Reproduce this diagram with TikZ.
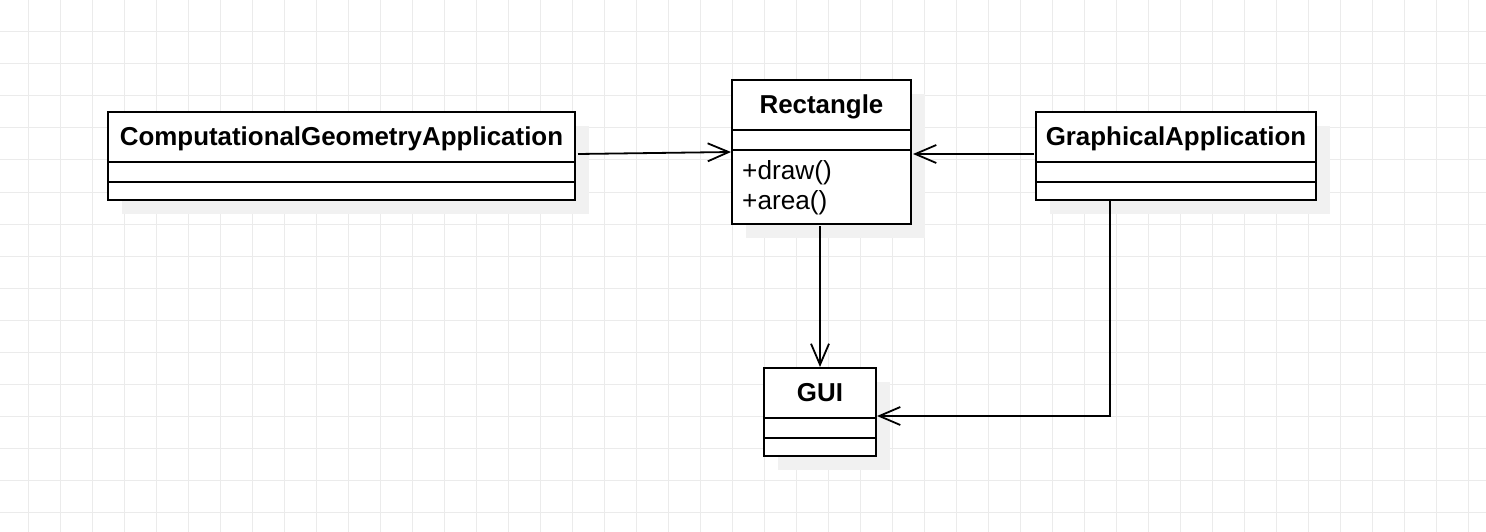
\documentclass[tikz,border=0pt]{standalone}
\usepackage{fontspec}
\setmainfont{Liberation Sans}
\usetikzlibrary{calc,arrows.meta,shadows}
\definecolor{gridc}{HTML}{EBEBEB}
\definecolor{shadowc}{HTML}{F1F1F1}
\tikzset{
  gridline/.style={draw=gridc, line width=1pt},
  classbox/.style={draw=black, fill=white, line width=2pt, inner sep=0pt, outer sep=0pt,
    anchor=north west,
    general shadow={shadow xshift=14pt, shadow yshift=-14pt, fill=shadowc, draw=none, opacity=1}},
  boxline/.style={draw=black, line width=2pt},
  headtext/.style={font=\bfseries\fontsize{25.9}{30}\selectfont, inner sep=0pt, anchor=base},
  optext/.style={font=\fontsize{26.2}{30}\selectfont, inner sep=0pt, anchor=base west},
  assoc/.style={draw=black, line width=1.8pt, -{Straight Barb[length=21pt, width=18pt]}},
}
\begin{document}
\begin{tikzpicture}[x=1pt, y=-1pt]
\useasboundingbox (0,0) rectangle (1486,532);
\fill[white] (0,0) rectangle (1486,532);
% grid
\foreach \gx in {28,60,...,1484} \draw[gridline] (\gx,0) -- (\gx,532);
\foreach \gy in {0,32,...,528} \draw[gridline] (0,\gy) -- (1486,\gy);

% ComputationalGeometryApplication
\node[classbox, minimum width=467pt, minimum height=88pt] (cga) at (108,112) {};
\draw[boxline] ($(cga.north west)+(0,50)$) -- ($(cga.north east)+(0,50)$);
\draw[boxline] ($(cga.north west)+(0,70)$) -- ($(cga.north east)+(0,70)$);
\node[headtext] (cgat) at ($(cga.north)+(0,33.5)$) {ComputationalGeometryApplication};

% Rectangle
\node[classbox, minimum width=179pt, minimum height=144pt] (rect) at (732,80) {};
\draw[boxline] ($(rect.north west)+(0,50)$) -- ($(rect.north east)+(0,50)$);
\draw[boxline] ($(rect.north west)+(0,70)$) -- ($(rect.north east)+(0,70)$);
\node[headtext] (rectt) at ($(rect.north)+(0,33.5)$) {Rectangle};
\node[optext] (rdraw) at ($(rect.north west)+(10,99)$) {+draw()};
\node[optext] (rarea) at ($(rect.north west)+(10,129.5)$) {+area()};

% GraphicalApplication
\node[classbox, minimum width=280pt, minimum height=88pt] (ga) at (1036,112) {};
\draw[boxline] ($(ga.north west)+(0,50)$) -- ($(ga.north east)+(0,50)$);
\draw[boxline] ($(ga.north west)+(0,70)$) -- ($(ga.north east)+(0,70)$);
\node[headtext] (gat) at ($(ga.north)+(0,33.5)$) {GraphicalApplication};

% GUI
\node[classbox, minimum width=112pt, minimum height=88pt] (gui) at (764,368) {};
\draw[boxline] ($(gui.north west)+(0,50)$) -- ($(gui.north east)+(0,50)$);
\draw[boxline] ($(gui.north west)+(0,70)$) -- ($(gui.north east)+(0,70)$);
\node[headtext] (guit) at ($(gui.north)+(0,33.5)$) {GUI};

% connectors
\draw[assoc] ($(cga.east)+(3,-2)$) -- ($(rect.west)+(-1,0)$);
\draw[assoc] ($(ga.west)+(-2,-2)$) -- ($(rect.east)+(2,2)$);
\draw[assoc] ($(rect.south)+(-1.5,2)$) -- ($(gui.north)+(0,-1)$);
\draw[assoc] ($(ga.south west)+(74,0)$) |- ($(gui.east)+(1,4)$);
\end{tikzpicture}
\end{document}
